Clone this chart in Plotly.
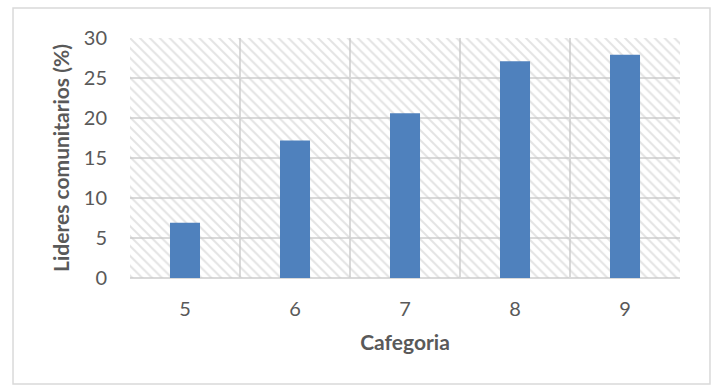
import plotly.graph_objects as go

categories = [5, 6, 7, 8, 9]
values = [6.9, 17.2, 20.6, 27.1, 27.9]
y_max = 30
y_ticks = [0, 5, 10, 15, 20, 25, 30]

grid = "#d9d9d9"
txt = "#595959"
font = "Lato, 'Open Sans', sans-serif"

fig = go.Figure()
# hatched plot-area background
fig.add_trace(go.Bar(
    x=categories, y=[y_max] * len(categories), width=1,
    marker=dict(color="rgba(0,0,0,0)", line=dict(width=0),
                pattern=dict(shape="\\", fgcolor="#c8c8c8", bgcolor="rgba(0,0,0,0)",
                             size=7, solidity=0.28, fillmode="overlay")),
    hoverinfo="skip", showlegend=False))
fig.add_trace(go.Bar(
    x=categories, y=values, width=0.273,
    marker=dict(color="#4f81bd", line=dict(width=0)), showlegend=False))

fig.update_layout(
    width=713, height=385,
    margin=dict(l=130, r=33, t=38, b=107),
    barmode="overlay",
    plot_bgcolor="white", paper_bgcolor="white",
    font=dict(family=font, color=txt, size=20),
    xaxis=dict(range=[4.5, 9.5], tickvals=categories, ticktext=[str(c) for c in categories],
               showgrid=False, zeroline=False, showline=False, ticks="",
               ticklabelstandoff=17,
               minor=dict(tick0=4.5, dtick=1, showgrid=True, gridcolor=grid, gridwidth=1.5),
               title=dict(text="<b>Cafegoria</b>", font=dict(size=21, color=txt), standoff=16)),
    yaxis=dict(range=[0, y_max], tickvals=y_ticks, showgrid=True, gridcolor=grid, gridwidth=1.5,
               zeroline=True, zerolinecolor=grid, zerolinewidth=2, ticks="",
               ticklabelstandoff=22,
               title=dict(text="<b>Lideres comunitarios (%)</b>", font=dict(size=21, color=txt), standoff=8)),
    shapes=[dict(type="rect", xref="paper", yref="paper",
                 x0=-0.2127, x1=1.0545, y0=-0.4417, y1=1.125,
                 line=dict(color=grid, width=1.5), fillcolor="rgba(0,0,0,0)", layer="below")],
)

fig.write_html("out.html")
